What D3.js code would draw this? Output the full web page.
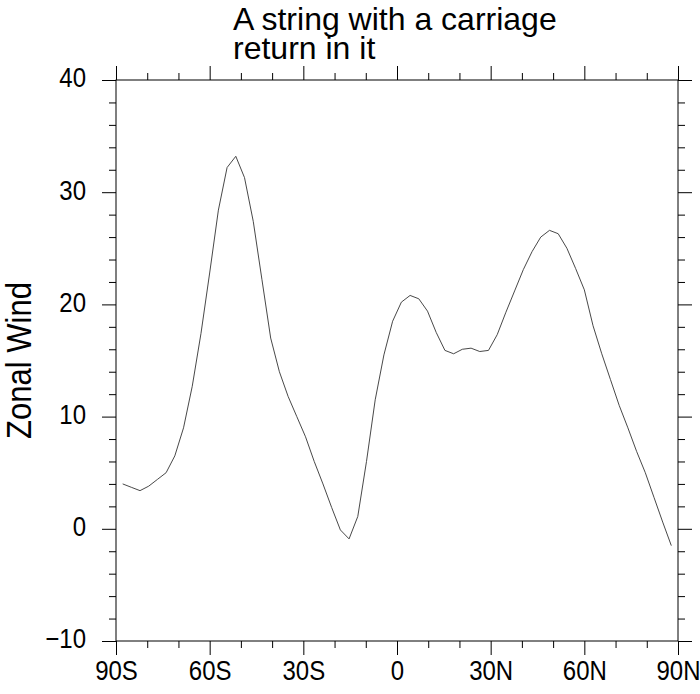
<!DOCTYPE html>
<html>
<head>
<meta charset="utf-8">
<script src="https://cdn.jsdelivr.net/npm/d3@7"></script>
<style>
  body { margin: 0; background: #fff; }
  text { font-family: "Liberation Sans", Arial, Helvetica, sans-serif; fill: #000; }
  .tall { transform-box: fill-box; transform-origin: center bottom; transform: scaleY(1.15); }
</style>
</head>
<body>
<div class="chart-container"></div>
<script>
// T42 gaussian latitudes
const lats = [
  -87.86, -85.10, -82.31, -79.53, -76.74, -73.95, -71.16, -68.37, -65.58, -62.79,
  -60.00, -57.21, -54.42, -51.63, -48.84, -46.04, -43.25, -40.46, -37.67, -34.88,
  -32.09, -29.30, -26.51, -23.72, -20.93, -18.14, -15.35, -12.56, -9.77, -6.98,
  -4.19, -1.40, 1.40, 4.19, 6.98, 9.77, 12.56, 15.35, 18.14, 20.93,
  23.72, 26.51, 29.30, 32.09, 34.88, 37.67, 40.46, 43.25, 46.04, 48.84,
  51.63, 54.42, 57.21, 60.00, 62.79, 65.58, 68.37, 71.16, 73.95, 76.74,
  79.53, 82.31, 85.10, 87.86
]

// zonal wind
const zonalWind = [
  4.0, 3.7, 3.4, 3.8, 4.4, 5.0, 6.5, 9.0, 12.7, 17.4,
  22.8, 28.4, 32.2, 33.2, 31.3, 27.4, 22.2, 17.0, 14.0, 11.8,
  10.0, 8.2, 6.0, 4.0, 1.9, -0.1, -0.9, 1.1, 6.0, 11.5,
  15.5, 18.5, 20.2, 20.8, 20.5, 19.4, 17.5, 15.9, 15.6, 16.0,
  16.1, 15.8, 15.9, 17.3, 19.3, 21.2, 23.1, 24.7, 26.0, 26.6,
  26.3, 25.0, 23.2, 21.3, 18.1, 15.6, 13.3, 11.0, 9.0, 6.9,
  5.0, 2.8, 0.6, -1.5
]

const xTicks = [-90, -60, -30, 0, 30, 60, 90]
const xTickLabels = ['90S', '60S', '30S', '0', '30N', '60N', '90N']
const yTicks = [-10, 0, 10, 20, 30, 40]

const titleLines = ['A string with a carriage', 'return in it']
const yTitle = 'Zonal Wind'

const width = 700
const height = 694
const margin = { top: 80, right: 22, bottom: 53, left: 116 }
const innerW = width - margin.left - margin.right
const innerH = height - margin.top - margin.bottom

const svg = d3
  .select('.chart-container')
  .append('svg')
  .attr('width', width)
  .attr('height', height)

const g = svg
  .append('g')
  .attr('transform', `translate(${margin.left},${margin.top})`)

const x = d3.scaleLinear().domain([-90, 90]).range([0, innerW])
const y = d3.scaleLinear().domain([-10, 40]).range([innerH, 0])

const majorLen = 14
const minorLen = 7
const xMinor = d3.range(-90, 91, 10).filter((d) => d % 30 !== 0)
const yMinor = d3.range(-10, 41, 2).filter((d) => d % 10 !== 0)

function styleAxis(sel) {
  sel.select('.domain').remove()
  sel.selectAll('.tick line').attr('stroke', '#000').attr('stroke-width', 1)
  sel.selectAll('.tick text')
    .attr('class', 'tall')
    .attr('font-size', 24)
    .attr('font-family', '"Liberation Sans", Arial, sans-serif')
    .attr('fill', '#000')
}

// bottom axis with labels
g.append('g')
  .attr('transform', `translate(0,${innerH})`)
  .call(
    d3.axisBottom(x)
      .tickValues(xTicks)
      .tickSize(majorLen)
      .tickPadding(9)
      .tickFormat((d, i) => xTickLabels[i])
  )
  .call(styleAxis)

g.append('g')
  .attr('transform', `translate(0,${innerH})`)
  .call(d3.axisBottom(x).tickValues(xMinor).tickSize(minorLen).tickFormat(''))
  .call(styleAxis)

// top axis, ticks only
g.append('g')
  .call(d3.axisTop(x).tickValues(xTicks).tickSize(majorLen).tickFormat(''))
  .call(styleAxis)
g.append('g')
  .call(d3.axisTop(x).tickValues(xMinor).tickSize(minorLen).tickFormat(''))
  .call(styleAxis)

// left axis with labels
g.append('g')
  .call(
    d3.axisLeft(y)
      .tickValues(yTicks)
      .tickSize(majorLen)
      .tickPadding(16)
  )
  .call(styleAxis)
g.append('g')
  .call(d3.axisLeft(y).tickValues(yMinor).tickSize(minorLen).tickFormat(''))
  .call(styleAxis)

// right axis, ticks only
g.append('g')
  .attr('transform', `translate(${innerW},0)`)
  .call(d3.axisRight(y).tickValues(yTicks).tickSize(majorLen).tickFormat(''))
  .call(styleAxis)
g.append('g')
  .attr('transform', `translate(${innerW},0)`)
  .call(d3.axisRight(y).tickValues(yMinor).tickSize(minorLen).tickFormat(''))
  .call(styleAxis)

// frame
g.append('rect')
  .attr('width', innerW)
  .attr('height', innerH)
  .attr('fill', 'none')
  .attr('stroke', '#000')
  .attr('stroke-width', 1)

// the curve
const line = d3
  .line()
  .x((d, i) => x(lats[i]))
  .y((d) => y(d))

g.append('path')
  .datum(zonalWind)
  .attr('fill', 'none')
  .attr('stroke', '#333')
  .attr('stroke-width', 0.9)
  .attr('d', line)

// title, two lines left aligned
svg
  .selectAll('.title')
  .data(titleLines)
  .enter()
  .append('text')
  .attr('class', 'title')
  .attr('x', 233)
  .attr('y', (d, i) => 30 + i * 29)
  .attr('font-size', 32)
  .text((d) => d)

// y axis title
svg
  .append('text')
  .attr('transform', `translate(31,${margin.top + innerH / 2}) rotate(-90) scale(1,1.12)`)
  .attr('text-anchor', 'middle')
  .attr('font-size', 31)
  .text(yTitle)
</script>
</body>
</html>
